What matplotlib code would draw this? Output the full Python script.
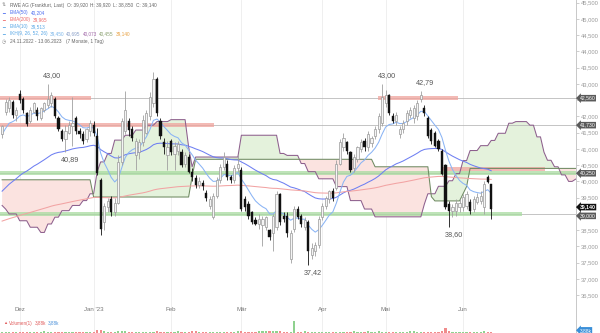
import numpy as np
import matplotlib
matplotlib.use('Agg')
import matplotlib.pyplot as plt
from matplotlib.transforms import blended_transform_factory

plt.rcParams['font.family'] = ['Liberation Sans', 'DejaVu Sans']

# ---------------- data ----------------
opens = [41.45, 42.15, 42.25, 42.45, 42.05, 42.70, 42.55, 42.10, 41.85, 42.15,
         42.20, 41.95, 42.20, 42.35, 42.40, 42.55, 41.95, 41.55, 41.30, 41.50,
         41.70, 41.95, 41.55, 41.45, 41.30, 41.55, 41.75, 41.40, 40.05, 38.75,
         39.20, 39.45, 39.05, 39.35, 40.60, 41.55, 41.85, 41.60, 40.80, 40.90,
         41.20, 41.50, 42.00, 42.40, 43.15, 41.85, 41.20, 40.80, 41.25, 40.85,
         40.95, 40.90, 40.55, 40.75, 40.30, 40.10, 39.90, 39.95, 39.65, 39.25,
         38.90, 39.55, 40.05, 40.45, 40.55, 40.15, 40.05, 40.40, 40.35, 39.45,
         39.30, 39.05, 38.80, 38.70, 38.65, 38.60, 38.50, 38.40, 38.60, 39.60,
         38.95, 38.95, 37.60, 38.55, 39.15, 38.95, 38.60, 38.75, 37.75, 37.85,
         38.05, 38.90, 39.25, 39.45, 39.70, 39.80, 40.55, 41.05, 41.20, 40.90,
         40.40, 40.70, 41.00, 41.25, 41.05, 41.17, 41.40, 41.60, 41.80, 42.40,
         42.65, 42.00, 41.85, 41.45, 41.60, 41.85, 42.05, 41.95, 42.00, 42.55,
         42.25, 41.94, 41.57, 41.48, 41.23, 40.92, 40.50, 39.31, 39.09, 39.10,
         39.20, 39.22, 39.25, 39.37, 39.15, 39.37, 39.40, 39.22, 40.15, 39.92]
highs = [41.75, 42.55, 42.60, 42.50, 42.30, 42.80, 42.60, 42.15, 42.30, 42.45,
         42.30, 42.30, 42.45, 43.00, 42.75, 42.60, 42.00, 41.60, 41.75, 41.85,
         42.60, 42.00, 41.65, 41.55, 41.65, 41.90, 41.85, 41.65, 40.10, 39.35,
         39.50, 39.55, 39.50, 40.80, 41.95, 42.78, 41.95, 41.70, 41.35, 41.30,
         42.05, 42.20, 42.75, 43.35, 43.20, 41.95, 41.35, 41.25, 41.30, 41.20,
         41.25, 41.00, 40.90, 40.85, 40.40, 40.20, 40.15, 40.05, 39.75, 39.55,
         39.65, 40.15, 40.55, 40.90, 40.65, 40.20, 40.50, 40.80, 40.45, 39.55,
         39.40, 39.10, 38.90, 39.00, 38.95, 38.95, 38.55, 39.00, 39.70, 39.65,
         39.05, 39.05, 38.50, 39.25, 39.25, 39.00, 38.90, 38.80, 38.10, 38.15,
         38.95, 39.35, 39.55, 39.75, 39.80, 40.65, 41.30, 41.50, 41.25, 40.95,
         40.85, 41.10, 41.30, 41.35, 41.55, 41.40, 41.70, 42.10, 43.00, 42.80,
         42.70, 42.10, 42.15, 41.70, 41.90, 42.20, 42.30, 42.35, 42.50, 42.79,
         42.35, 42.00, 41.65, 41.55, 41.30, 41.00, 40.55, 39.40, 39.30, 39.45,
         39.45, 39.60, 39.70, 39.45, 39.55, 39.65, 39.70, 40.00, 40.20, 39.92]
lows = [41.35, 42.05, 42.15, 41.95, 41.85, 42.40, 42.10, 41.70, 41.80, 42.10,
        41.90, 41.90, 42.15, 42.25, 42.30, 41.95, 41.55, 41.25, 40.89, 41.45,
        41.10, 41.45, 41.35, 41.15, 41.20, 41.40, 41.40, 40.20, 38.35, 38.50,
        39.05, 38.95, 38.95, 39.30, 40.50, 41.45, 41.40, 41.25, 40.35, 40.70,
        41.10, 41.45, 41.90, 42.30, 42.00, 41.30, 40.85, 40.35, 40.80, 40.35,
        40.80, 40.45, 40.45, 40.25, 40.00, 39.80, 39.80, 39.75, 39.40, 39.15,
        38.85, 39.50, 39.95, 40.35, 40.05, 39.95, 39.95, 40.30, 39.10, 39.10,
        38.85, 38.70, 38.65, 38.55, 38.00, 38.50, 38.20, 37.85, 38.50, 38.65,
        38.75, 38.30, 37.50, 38.45, 38.85, 38.60, 38.50, 37.42, 37.60, 37.70,
        37.95, 38.80, 39.15, 39.35, 39.40, 39.75, 40.50, 40.95, 40.85, 40.30,
        40.30, 40.60, 40.90, 40.95, 40.95, 41.05, 41.30, 41.50, 41.70, 42.30,
        42.05, 41.80, 41.75, 41.35, 41.50, 41.75, 41.95, 41.80, 41.90, 42.45,
        42.00, 41.35, 41.15, 41.05, 40.95, 40.20, 39.15, 38.60, 38.90, 38.95,
        39.05, 39.10, 39.15, 39.00, 39.05, 39.30, 39.30, 39.00, 39.95, 38.85]
closes = [41.70, 42.45, 42.50, 42.05, 42.20, 42.50, 42.20, 41.78, 42.20, 42.40,
          42.00, 42.25, 42.40, 42.55, 42.65, 42.00, 41.62, 41.30, 41.55, 41.75,
          41.80, 41.55, 41.45, 41.25, 41.60, 41.80, 41.50, 40.25, 38.55, 39.25,
          39.40, 39.05, 39.35, 40.60, 41.85, 42.20, 41.57, 41.35, 41.25, 41.20,
          41.90, 42.10, 42.60, 43.15, 42.10, 41.40, 41.05, 41.05, 40.90, 41.10,
          41.15, 40.50, 40.80, 40.30, 40.15, 39.90, 40.00, 39.85, 39.50, 39.45,
          39.55, 40.05, 40.45, 40.75, 40.15, 40.05, 40.40, 40.55, 39.15, 39.20,
          38.95, 38.75, 38.70, 38.85, 38.85, 38.90, 38.30, 38.95, 39.60, 38.75,
          38.85, 38.40, 38.40, 39.15, 38.90, 38.70, 38.80, 37.85, 37.95, 38.05,
          38.85, 39.25, 39.50, 39.70, 39.50, 40.55, 41.20, 41.35, 40.95, 40.35,
          40.75, 41.05, 41.20, 41.05, 41.45, 41.32, 41.60, 42.00, 42.60, 42.65,
          42.10, 41.85, 42.05, 41.60, 41.80, 42.10, 42.20, 42.25, 42.40, 42.65,
          42.10, 41.41, 41.23, 41.10, 41.00, 40.24, 39.20, 39.09, 39.22, 39.35,
          39.35, 39.53, 39.62, 39.09, 39.45, 39.53, 39.55, 39.93, 39.99, 39.14]
volumes = [4, 5, 4, 5, 6, 5, 4, 5, 4, 6,
           5, 6, 10, 6, 5, 4, 5, 6, 7, 5,
           4, 3, 3, 4, 3, 4, 6, 14, 18, 9,
           7, 6, 5, 8, 9, 8, 6, 5, 6, 5,
           5, 4, 5, 6, 8, 7, 5, 5, 6, 7,
           10, 6, 5, 6, 10, 9, 5, 4, 5, 6,
           5, 6, 5, 4, 5, 4, 6, 8, 9, 7,
           5, 6, 5, 9, 8, 10, 9, 8, 12, 9,
           5, 6, 7, 60, 7, 5, 8, 6, 7, 5,
           6, 5, 4, 5, 4, 5, 6, 5, 4, 5,
           8, 5, 6, 5, 9, 5, 4, 9, 6, 7,
           6, 5, 7, 5, 6, 5, 11, 8, 6, 7,
           5, 6, 7, 5, 6, 8, 25, 10, 6, 5,
           4, 5, 4, 6, 5, 4, 5, 8, 7, 3.88]

month_labels = ['Dez', "Jan '23", 'Feb', 'M\u00e4r', 'Apr', 'Mai', 'Jun']
month_idx = [5, 26, 48, 68, 91, 109, 131]

# Ichimoku cloud lines (value, number of periods), projected 26 periods ahead
senkou_a_runs = [(39.26, 1), (39.15, 1), (39.0, 3), (38.79, 3), (38.59, 3), (38.43, 2),
                 (38.69, 2), (38.9, 2), (39.10, 3), (39.26, 3), (39.41, 2), (39.62, 2),
                 (40.29, 1), (40.6, 2), (40.86, 2), (41.27, 3), (41.42, 3), (41.58, 3),
                 (41.73, 3), (41.84, 4), (41.90, 5), (41.07, 1), (40.45, 1), (40.75, 13),
                 (41.42, 11), (40.86, 2), (40.80, 4), (40.55, 2), (40.30, 3), (40.08, 5),
                 (39.84, 4), (39.41, 4), (39.15, 3), (38.91, 14), (39.3, 1), (39.62, 3),
                 (39.85, 3), (40.02, 2), (40.24, 2), (40.64, 2), (40.95, 3), (41.10, 3),
                 (41.26, 2), (41.48, 3), (41.79, 2), (41.84, 4), (41.73, 2), (41.37, 2),
                 (40.9, 1), (40.65, 2), (40.45, 2), (40.20, 2), (40.0, 2), (40.07, 1)]
senkou_b_runs = [(40.05, 26), (39.52, 28), (40.15, 1), (40.68, 51), (40.45, 16),
                 (39.53, 1), (39.40, 8), (39.62, 1), (39.84, 1), (40.40, 31)]

ema_periods = [50, 200, 10]
ema_seeds = [39.70, 38.78, 41.45]

hl_levels = [42.56, 41.73, 40.25, 39.00]
annot_idx = [13, 18, 87, 108, 119, 127]
annot_kind = ['high', 'low', 'low', 'high', 'high', 'low']

header_values = {'O': 39.92, 'H': 39.92, 'L': 38.85, 'C': 39.14}
ema_last = [40.204, 39.965, 39.513]
ikh_last = [39.450, 40.695, 40.073, 40.455, 39.140]

# ---------------- derived ----------------
n = len(closes)
x = np.arange(n)
o = np.array(opens); h = np.array(highs); l = np.array(lows); c = np.array(closes)
span_a = np.concatenate([np.full(k, v) for v, k in senkou_a_runs])
span_b = np.concatenate([np.full(k, v) for v, k in senkou_b_runs])
xc = np.arange(len(span_a))


def ema(vals, period, seed):
    a = 2.0 / (period + 1)
    out = np.empty(len(vals))
    prev = seed
    for i, v in enumerate(vals):
        if i > 0:
            prev = prev + a * (v - prev)
        out[i] = prev
    return out


def de(v, d=3):
    return f"{v:.{d}f}".replace('.', ',')


emas = [ema(c, p, s) for p, s in zip(ema_periods, ema_seeds)]

# ---------------- figure ----------------
W, H = 600, 333
fig = plt.figure(figsize=(6, 3.33), dpi=100)
main_bottom_px = 316
ax = fig.add_axes([0, (H - main_bottom_px) / H, 576 / W, main_bottom_px / H])
axv = fig.add_axes([0, 0, 576 / W, (H - main_bottom_px) / H])

XMIN, XMAX = -0.6, 163.1
ax.set_xlim(XMIN, XMAX)
ax.set_ylim(35.86, 45.58)
axv.set_xlim(XMIN, XMAX)
axv.set_ylim(0, 88)

for a_ in (ax, axv):
    for s in ('top', 'left'):
        a_.spines[s].set_visible(False)
    a_.spines['right'].set_color('#c8c8c8')
    a_.spines['right'].set_linewidth(0.7)
    a_.spines['bottom'].set_color('#c8c8c8')
    a_.spines['bottom'].set_linewidth(0.7)
    a_.set_xticks([])
    for mi in month_idx:
        a_.axvline(mi, color='#ececec', lw=0.6, zorder=0)
axv.spines['bottom'].set_visible(False)
axv.set_yticks([])

# price axis on right (labels hidden under the level boxes are left blank)
ax.yaxis.tick_right()
ticks = np.arange(36.5, 45.51, 0.5)
ax.set_yticks(ticks)
hidden = {42.5, 39.0}
ax.set_yticklabels(['' if round(t, 2) in hidden else de(t) for t in ticks])
ax.tick_params(axis='y', length=2, width=0.5, color='#bbbbbb', labelsize=4.2,
               labelcolor='#9a9a9a', pad=1.5)

# cloud
ax.fill_between(xc, span_a, span_b, where=span_a >= span_b, interpolate=True,
                color='#e4f2dc', lw=0, zorder=1)
ax.fill_between(xc, span_a, span_b, where=span_a < span_b, interpolate=True,
                color='#fbe3e0', lw=0, zorder=1)
ax.plot(xc, span_a, color='#8d5f8d', lw=0.75, zorder=3)
ax.plot(xc, span_b, color='#6f8a62', lw=0.75, zorder=3)

# horizontal levels
for lv in hl_levels:
    ax.axhline(lv, color='#b4b4b4', lw=0.55, zorder=2)
red_c = '#f0a39c'
green_c = '#a8dca0'
bh = 0.065
ax.fill_between([XMIN, 25.4], 42.56 - bh, 42.56 + bh, color=red_c, alpha=0.75, lw=0, zorder=2)
ax.fill_between([106.9, 129.6], 42.56 - bh, 42.56 + bh, color=red_c, alpha=0.75, lw=0, zorder=2)
ax.fill_between([XMIN, 60.2], 41.73 - bh, 41.73 + bh, color=red_c, alpha=0.75, lw=0, zorder=2)
ax.fill_between([XMIN, XMAX], 40.25 - bh, 40.25 + bh, color=green_c, alpha=0.75, lw=0, zorder=2)
ax.fill_between([125.4, 154.3], 40.37 - bh, 40.37 + bh, color=red_c, alpha=0.75, lw=0, zorder=2)
ax.fill_between([XMIN, 147.8], 39.00 - bh, 39.00 + bh, color=green_c, alpha=0.75, lw=0, zorder=2)

# EMAs
ema_colors = ['#6e7ff2', '#f2a3a3', '#8ab4f5']
for e, col in zip(emas, ema_colors):
    ax.plot(x, e, color=col, lw=0.75, zorder=4)

# candles
up = c >= o
bw = 0.62
ax.vlines(x[up], l[up], h[up], color='#a0a0a0', lw=0.6, zorder=5)
ax.vlines(x[~up], l[~up], h[~up], color='#111111', lw=0.6, zorder=5)
ax.bar(x[up], (c - o)[up], bottom=o[up], width=bw, color='#f4f4f4',
       edgecolor='#9a9a9a', linewidth=0.5, zorder=6)
ax.bar(x[~up], (o - c)[~up], bottom=c[~up], width=bw, color='#111111',
       edgecolor='#111111', linewidth=0.3, zorder=6)

# high / low annotations
for i, k in zip(annot_idx, annot_kind):
    if k == 'high':
        ax.text(i + 1.3, h[i] + 0.26, de(h[i], 2), ha='center',
                va='center', fontsize=5.2, color='#555555', zorder=7)
    else:
        ax.text(i + 1.3, l[i] - 0.23, de(l[i], 2), ha='center',
                va='center', fontsize=5.2, color='#555555', zorder=7)

# month labels
bt = blended_transform_factory(ax.transData, ax.transAxes)
for mi, lab in zip(month_idx, month_labels):
    ax.text(mi, 0.022, lab, transform=bt, ha='center', va='center', fontsize=4.4,
            color='#777777')

# price boxes on the axis
rt = blended_transform_factory(ax.transAxes, ax.transData)
box_vals = [42.56, 41.73, 40.25]
for bv in box_vals:
    ax.text(1.006, bv, de(bv), transform=rt, ha='left', va='center',
            fontsize=3.7, color='white', zorder=10, clip_on=False,
            bbox=dict(boxstyle='larrow,pad=0.15', fc='#5a5a5a', ec='none'))
ax.text(1.006, 38.94, de(39.00), transform=rt, ha='left', va='center',
        fontsize=3.7, color='white', zorder=10, clip_on=False,
        bbox=dict(boxstyle='larrow,pad=0.15', fc='#5a5a5a', ec='none'))
ax.text(1.006, 39.21, de(c[-1]), transform=rt, ha='left', va='center',
        fontsize=3.7, color='white', zorder=11, clip_on=False, fontweight='bold',
        bbox=dict(boxstyle='larrow,pad=0.15', fc='#111111', ec='none'))

# volume
vol = np.array(volumes)
vcol = np.where(up, '#8fd18f', '#f08c8c')
axv.bar(x, vol, width=0.62, color=vcol, zorder=3)
rtv = blended_transform_factory(axv.transAxes, axv.transData)
axv.text(1.006, 14, de(vol[-1], 2) + 'k', transform=rtv, ha='left',
         va='center', fontsize=3.5, color='white', clip_on=False,
         bbox=dict(boxstyle='larrow,pad=0.15', fc='#3a8fd8', ec='none'))

# ---------------- header texts (chained so pieces never overlap) ----------------
fig.canvas.draw()
renderer = fig.canvas.get_renderer()


def chain(px, py, pieces, fs, gap=2.0):
    cur = px
    for s, col in pieces:
        t = fig.text(cur / W, 1 - py / H, s, color=col, fontsize=fs, va='center', ha='left')
        bb = t.get_window_extent(renderer=renderer)
        cur = bb.x1 + gap
    return cur


FS = 3.4
chain(2, 5, [('\u21c5', '#888888')], FS)
chain(10, 5, [('RWE AG (Frankfurt, Last)', '#666666'),
              (f"O: {de(header_values['O'])}", '#666666'),
              (f"H: {de(header_values['H'])}", '#666666'),
              (f"L: {de(header_values['L'])}", '#666666'),
              (f"C: {de(header_values['C'])}", '#666666')], FS, gap=2.5)
lines = [(12.5, 'EMA(50)', '#4f6ff0', ema_last[0]),
         (19.5, 'EMA(200)', '#ee6a6a', ema_last[1]),
         (26.5, 'EMA(10)', '#5aa8e6', ema_last[2])]
for py, name, col, val in lines:
    chain(2, py, [('\u2501', col)], FS)
    chain(10, py, [(name, col), (de(val), col)], FS)
chain(2, 34, [('\u2501', '#5aa8e6')], FS)
ikh_cols = ['#7ab6ea', '#8aa0c8', '#a067a8', '#8aa070', '#e8a040']
chain(10, 34, [('IKH(9, 26, 52, 26)', '#5aa8e6')] +
      [(de(v), cc) for v, cc in zip(ikh_last, ikh_cols)], FS)
chain(2, 41.5, [('\u25f7', '#888888')], FS)
chain(10, 41.5, [('24.11.2022 - 13.06.2023', '#666666'), ('(7 Monate, 1 Tag)', '#666666')],
      FS, gap=5)

# volume legend
chain(3, 323, [('\u25b2', '#e05a5a')], 3.0)
chain(9, 323, [('Volumen(1)', '#e05a5a'), (de(vol[-1], 2) + 'k', '#e05a5a'),
               (de(vol[-1], 2) + 'k', '#4a90d9')], 3.3)

fig.savefig('out.png', dpi=100)
